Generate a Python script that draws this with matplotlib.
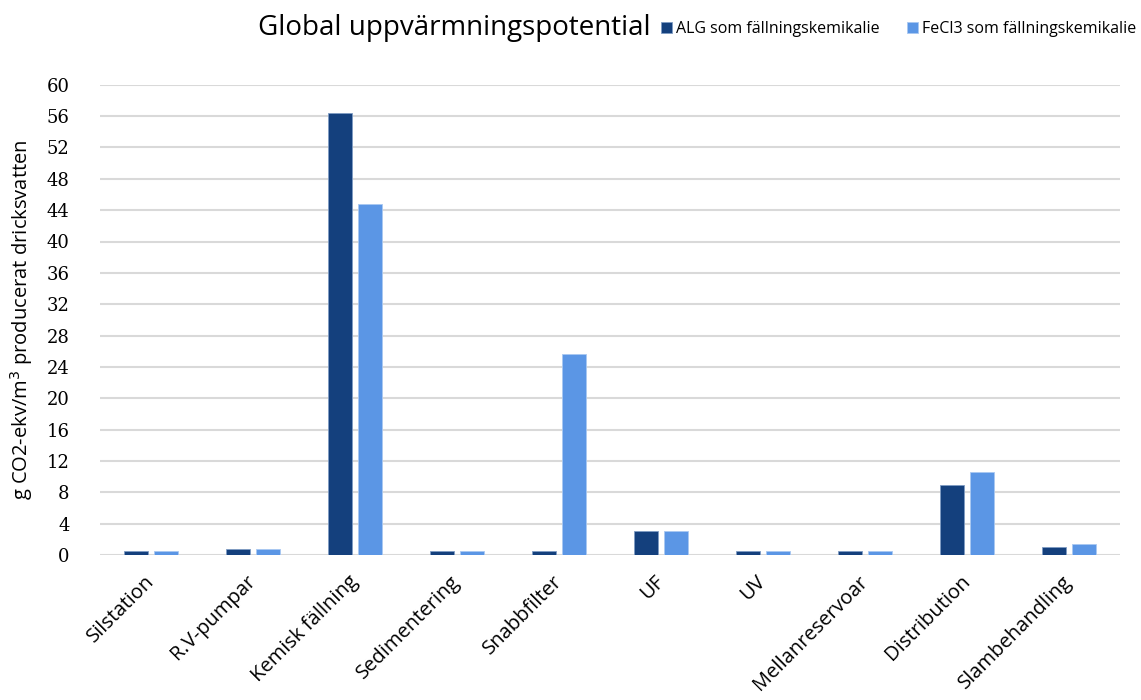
import matplotlib.pyplot as plt
import numpy as np

categories = ['Silstation', 'R.V-pumpar', 'Kemisk fällning', 'Sedimentering',
              'Snabbfilter', 'UF', 'UV', 'Mellanreservoar', 'Distribution',
              'Slambehandling']
alg_values = [0.5, 0.75, 56.4, 0.5, 0.5, 3.1, 0.5, 0.5, 9.0, 1.0]
fecl3_values = [0.5, 0.75, 44.8, 0.5, 25.7, 3.1, 0.5, 0.5, 10.6, 1.45]
y_ticks = list(range(0, 61, 4))

ALG_COLOR = '#14407d'
FECL3_COLOR = '#5b96e5'

fig = plt.figure(figsize=(11.41, 7.0), dpi=100)
ax = fig.add_axes([0.0876, 0.207, 0.894, 0.672])

x = np.arange(len(categories))
width = 0.24
ax.bar(x - 0.145, alg_values, width, color=ALG_COLOR,
       edgecolor='#7f9cc4', linewidth=0.6, label='ALG som fällningskemikalie', zorder=3)
ax.bar(x + 0.145, fecl3_values, width, color=FECL3_COLOR,
       edgecolor='#a9c8f2', linewidth=0.6, label='FeCl3 som fällningskemikalie', zorder=3)

ax.set_xlim(-0.5, len(categories) - 0.5)
ax.set_ylim(0, 60)
ax.set_yticks(y_ticks)
ax.set_yticklabels([str(t) for t in y_ticks], fontfamily='DejaVu Serif', fontsize=13)
ax.tick_params(axis='y', length=0, pad=22)
ax.tick_params(axis='x', length=0, pad=17)
ax.set_xticks(x)
ax.set_xticklabels(categories, rotation=45, ha='right', va='center',
                   rotation_mode='anchor', fontfamily='Open Sans', fontsize=14.5)
ax.grid(axis='y', color='#d9d9d9', linewidth=1.5, zorder=0)
for s in ax.spines.values():
    s.set_visible(False)

ax.set_ylabel('g CO2-ekv/m$^3$ producerat dricksvatten', fontfamily='Open Sans',
              fontsize=14.5, labelpad=8)

fig.text(0.398, 1 - 28 / 700, 'Global uppvärmningspotential', ha='center', va='center',
         fontfamily='Open Sans', fontsize=20)
fig.legend(ncol=2, loc='center left', bbox_to_anchor=(0.567, 1 - 29 / 700),
           frameon=False, handlelength=0.65, handleheight=0.65, handletextpad=0.3,
           columnspacing=1.7, prop={'family': 'Open Sans', 'size': 11.5})

fig.savefig('out.png', dpi=100)
